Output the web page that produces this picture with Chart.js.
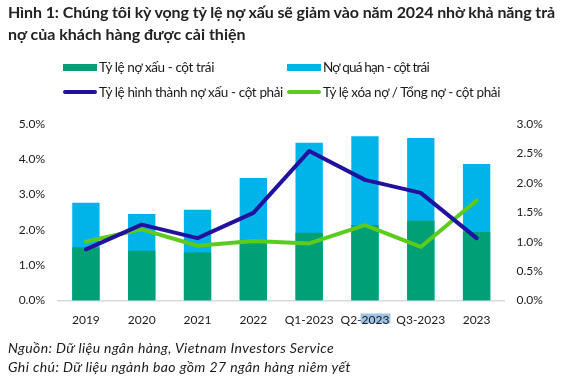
<!DOCTYPE html>
<html>
<head>
<meta charset="utf-8">
<script src="https://cdn.jsdelivr.net/npm/chart.js@4"></script>
<style>
  html,body{margin:0;padding:0;background:#fff;}
  #wrap{position:relative;width:564px;height:384px;overflow:hidden;font-family:Lato,"Open Sans",sans-serif;color:#1a1a1a;}
  #c{position:absolute;left:0;top:0;}
  .t{position:absolute;left:8px;font-weight:bold;font-size:16px;line-height:1.2;color:#222;white-space:nowrap;}
  .leg{position:absolute;font-size:13.5px;line-height:14px;height:14px;color:#1a1a1a;white-space:nowrap;display:flex;align-items:center;}
  .sw{display:inline-block;width:34px;margin-right:2px;flex:none;}
  .foot{position:absolute;left:8px;font-style:italic;font-size:14px;line-height:1.2;color:#1a1a1a;white-space:nowrap;}
</style>
</head>
<body>
<div id="wrap">
  <canvas id="c" width="564" height="384"></canvas>
  <div class="t fit" data-w="547" style="top:1.5px">Hình 1: Chúng tôi kỳ vọng tỷ lệ nợ xấu sẽ giảm vào năm 2024 nhờ khả năng trả</div>
  <div class="t" style="top:24.2px">nợ của khách hàng được cải thiện</div>
  <div id="legend"></div>
  <div class="foot fit" data-w="326" style="top:339.5px">Nguồn: Dữ liệu ngân hàng, Vietnam Investors Service</div>
  <div class="foot fit" data-w="343" style="top:359.2px">Ghi chú: Dữ liệu ngành bao gồm 27 ngân hàng niêm yết</div>
</div>
<script>
const categories = ["2019","2020","2021","2022","Q1-2023","Q2-2023","Q3-2023","2023"];
const nplRatio   = [1.51, 1.41, 1.36, 1.62, 1.92, 2.14, 2.26, 1.94];   // Tỷ lệ nợ xấu (%), left axis
const overdue    = [2.77, 2.45, 2.57, 3.47, 4.47, 4.65, 4.60, 3.87];   // Nợ quá hạn (%), left axis
const nplFormation = [0.87, 1.29, 1.06, 1.49, 2.54, 2.05, 1.83, 1.06]; // right axis
const writeOff   = [1.00, 1.21, 0.93, 1.01, 0.97, 1.28, 0.91, 1.70];   // right axis
const leftTicks  = [0, 1, 2, 3, 4, 5];
const rightTicks = [0, 0.5, 1, 1.5, 2, 2.5, 3];

const labels = {
  npl: "Tỷ lệ nợ xấu - cột trái",
  over: "Nợ quá hạn - cột trái",
  form: "Tỷ lệ hình thành nợ xấu - cột phải",
  wo: "Tỷ lệ xóa nợ / Tổng nợ - cột phải"
};
const colors = {npl:"#00A076", over:"#00B4EA", form:"#22119E", wo:"#5DCA1E"};

const tickFont = {family:"Lato, 'Open Sans', sans-serif", size:12};
const tickColor = "#1a1a1a";

// selection-style highlight behind the "2023" part of the Q2-2023 tick label
const highlightPlugin = {
  id:'hl',
  beforeDraw(chart){
    const xs = chart.scales.x;
    const idx = categories.indexOf("Q2-2023");
    const ctx = chart.ctx;
    ctx.save();
    ctx.font = "12px Lato, 'Open Sans', sans-serif";
    const full = ctx.measureText("Q2-2023").width;
    const pre = ctx.measureText("Q2-").width;
    const cx = xs.getPixelForTick(idx);
    const x0 = cx - full/2 + pre - 1;
    const y0 = xs.top + 13;
    ctx.fillStyle = "#9DC3E6";
    ctx.fillRect(x0, y0, full - pre + 2, 10);
    ctx.restore();
  }
};

new Chart(document.getElementById('c'), {
  data: {
    labels: categories,
    datasets: [
      {type:'bar', label:labels.npl, data:nplRatio, backgroundColor:colors.npl, yAxisID:'y', order:1,
       categoryPercentage:1, barPercentage:0.49},
      {type:'bar', label:labels.over, data:overdue, backgroundColor:colors.over, yAxisID:'y', order:2,
       categoryPercentage:1, barPercentage:0.49},
      {type:'line', label:labels.form, data:nplFormation, borderColor:colors.form, borderWidth:4, yAxisID:'y1',
       pointRadius:0, tension:0, order:0, borderCapStyle:'round', borderJoinStyle:'round'},
      {type:'line', label:labels.wo, data:writeOff, borderColor:colors.wo, borderWidth:4, yAxisID:'y1',
       pointRadius:0, tension:0, order:0, borderCapStyle:'round', borderJoinStyle:'round'}
    ]
  },
  plugins:[highlightPlugin],
  options: {
    responsive:false, animation:false,
    layout:{padding:{top:124,left:0,right:0,bottom:0}},
    plugins:{legend:{display:false}, title:{display:false}, tooltip:{enabled:false}},
    scales:{
      x:{stacked:true, grid:{display:false, drawTicks:false}, border:{display:true, color:'#d9d9d9', width:1.5},
         ticks:{font:tickFont, color:tickColor, padding:12, maxRotation:0, autoSkip:false},
         afterFit:s=>{s.height = 83.5;}},
      y:{stacked:false, position:'left', min:0, max:5, grid:{display:false, drawTicks:false}, border:{display:false},
         afterBuildTicks:s=>{s.ticks = leftTicks.map(v=>({value:v}));},
         ticks:{font:tickFont, color:tickColor, padding:13, callback:v=>v.toFixed(1)+'%'},
         afterFit:s=>{s.width = 58;}},
      y1:{position:'right', min:0, max:3, grid:{display:false, drawTicks:false}, border:{display:false},
         afterBuildTicks:s=>{s.ticks = rightTicks.map(v=>({value:v}));},
         ticks:{font:tickFont, color:tickColor, padding:12, callback:v=>v.toFixed(1)+'%'},
         afterFit:s=>{s.width = 59.5;}}
    }
  }
});

// HTML legend built from the labels/colours
const leg = document.getElementById('legend');
const items = [
  {k:'npl', box:true, left:63, top:60, w:115},
  {k:'over', box:true, left:287, top:60, w:106},
  {k:'form', box:false, left:63, top:84.7, w:184},
  {k:'wo', box:false, left:287, top:84.7, w:177}
];
items.forEach(it=>{
  const d = document.createElement('div');
  d.className='leg';
  d.style.left = it.left+'px'; d.style.top = it.top+'px';
  const sw = document.createElement('span');
  sw.className='sw';
  sw.style.background = colors[it.k];
  sw.style.height = it.box ? '7px' : '4px';
  if(!it.box) sw.style.borderRadius='2px';
  d.appendChild(sw);
  const t = document.createElement('span');
  t.className='fit';
  t.dataset.w = it.w;
  t.textContent = labels[it.k];
  d.appendChild(t);
  leg.appendChild(d);
});

// match text run widths of the reference with letter-spacing
function fitAll(){
  document.querySelectorAll('.fit').forEach(el=>{
    el.style.letterSpacing='0px';
    const w = el.getBoundingClientRect().width;
    const n = el.textContent.length;
    el.style.letterSpacing = ((parseFloat(el.dataset.w) - w)/n) + 'px';
  });
}
fitAll();
if (document.fonts && document.fonts.ready) document.fonts.ready.then(fitAll);
</script>
</body>
</html>
